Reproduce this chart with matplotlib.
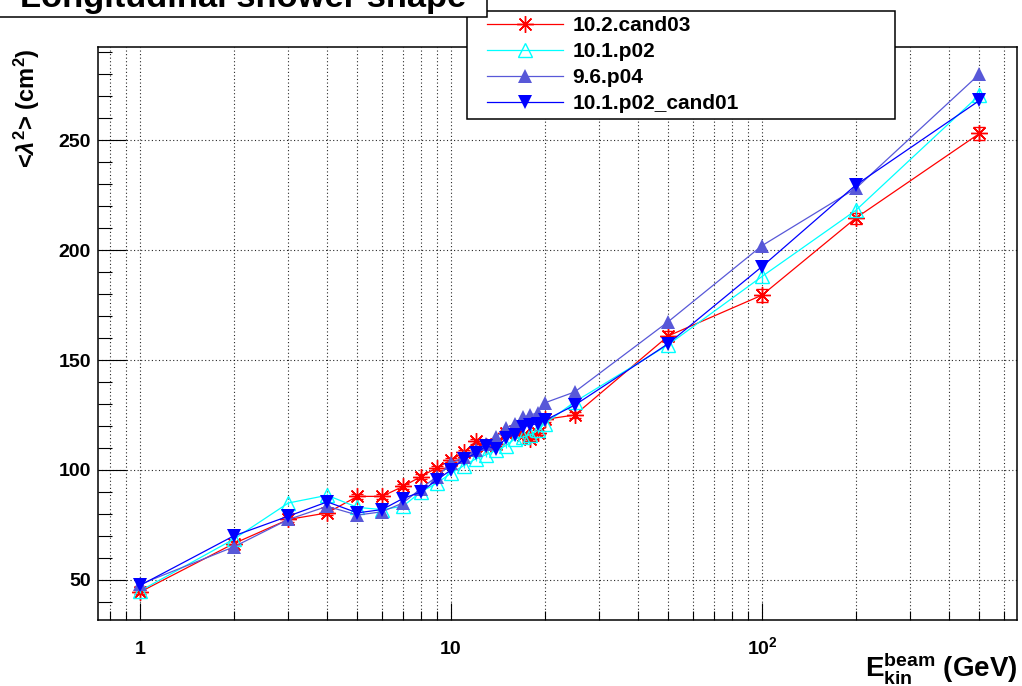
import numpy as np
import matplotlib
matplotlib.use("Agg")
import matplotlib.pyplot as plt
from matplotlib.lines import Line2D
from matplotlib.legend_handler import HandlerLine2D
from matplotlib.patches import Rectangle
from matplotlib.ticker import FixedLocator, FixedFormatter, NullFormatter

plt.rcParams['font.family'] = ['Liberation Sans', 'DejaVu Sans']
plt.rcParams['font.weight'] = 'bold'
plt.rcParams['mathtext.fontset'] = 'custom'
plt.rcParams['mathtext.rm'] = 'Liberation Sans:bold'
plt.rcParams['mathtext.bf'] = 'Liberation Sans:bold'
plt.rcParams['mathtext.it'] = 'Liberation Sans:italic'

# ---------------- data ----------------
energy = [1, 2, 3, 4, 5, 6, 7, 8, 9, 10, 11, 12, 13, 14, 15, 16, 17, 18, 19, 20,
          25, 50, 100, 200, 500]
cand03 = [44.5, 66.5, 77.5, 80.5, 88, 88, 92.5, 97, 101, 104.5, 108, 113, 111, 112,
          117, 117.5, 116, 114, 117, 123, 125, 161, 179.5, 214.5, 253]
cand03_err = [1, 1, 1, 1, 1, 1, 1, 1, 1, 1, 1, 1, 1, 1, 1, 1, 1, 1, 1, 1,
              1.5, 2, 3, 2.5, 3]
p02 = [45, 68.5, 85, 88.5, 83, 82, 83.5, 90, 94, 98.5, 102, 105, 107, 109, 111, 114,
       115, 116, 118, 121, 131, 157, 188, 218, 270.5]
p02_err = [1, 1, 1, 1, 1, 1, 1, 1, 1, 1, 1, 1, 1, 1, 1, 1, 1, 1, 1, 1,
           1.5, 2, 2.5, 2.5, 3]
p04 = [48, 65, 77.5, 83.5, 79.5, 81, 85, 91.5, 97, 103, 106, 109, 112, 115, 119, 121,
       124, 125, 126, 130.5, 135.5, 167.5, 202, 228, 280]
cand01 = [47.5, 70, 79, 85.5, 80.5, 82, 87, 90, 95.5, 100, 105, 107.5, 111, 109.5,
          114.5, 116, 119.5, 120.5, 121, 122.5, 129.5, 157.5, 192.5, 229.5, 268]

labels = ['10.2.cand03', '10.1.p02', '9.6.p04', '10.1.p02_cand01']
colors = ['#ff0000', '#00ffff', '#5858d8', '#0000ff']

x_major = [1, 10, 100]
x_major_labels = ['1', '10', r'$\mathrm{10^{2}}$']
x_minor = [0.8, 0.9, 2, 3, 4, 5, 6, 7, 8, 9, 20, 30, 40, 50, 60, 70, 80, 90,
           200, 300, 400, 500, 600]
y_major = [50, 100, 150, 200, 250]
y_minor = list(range(40, 300, 10))

# ---------------- figure ----------------
W, H = 1022, 686
fig = plt.figure(figsize=(W / 100, H / 100), dpi=100)
L, R, T, B = 98, 1017, 47, 620
ax = fig.add_axes([L / W, (H - B) / H, (R - L) / W, (B - T) / H])
ax.set_xscale('log')
ax.set_xlim(0.733, 660)
ax.set_ylim(31.8, 292.3)

ast = (8, 2, 0)
mk = dict(lw=0.9)
ax.errorbar(energy, cand03, yerr=cand03_err, color=colors[0], marker=ast, ms=12,
            mew=1.0, capsize=4.5, elinewidth=0.9, capthick=0.9, zorder=3, **mk)
ax.errorbar(energy, p02, yerr=p02_err, color=colors[1], marker='^', ms=9.5,
            mfc='none', mew=1.0, capsize=0, elinewidth=0.9, zorder=4, **mk)
ax.plot(energy, p04, color=colors[2], marker='^', ms=9.5, mew=0, zorder=5, **mk)
ax.plot(energy, cand01, color=colors[3], marker='v', ms=10, mew=0, zorder=6, **mk)

# axes / ticks
ax.xaxis.set_major_locator(FixedLocator(x_major))
ax.xaxis.set_major_formatter(FixedFormatter(x_major_labels))
ax.xaxis.set_minor_locator(FixedLocator(x_minor))
ax.xaxis.set_minor_formatter(NullFormatter())
ax.yaxis.set_major_locator(FixedLocator(y_major))
ax.yaxis.set_minor_locator(FixedLocator(y_minor))
ax.tick_params(axis='both', which='both', direction='in', top=False, right=False,
               width=0.8, colors='black')
ax.tick_params(axis='x', which='major', length=12.4, pad=24.5, labelsize=14)
ax.tick_params(axis='x', which='minor', length=6.2)
ax.tick_params(axis='y', which='major', length=20.2, pad=5, labelsize=14)
ax.tick_params(axis='y', which='minor', length=10.1)
for t in ax.xaxis.get_major_ticks():
    t.label1.set_verticalalignment('baseline')
for lab in ax.get_xticklabels() + ax.get_yticklabels():
    lab.set_fontweight('bold')
for sp in ax.spines.values():
    sp.set_linewidth(1.1)

ax.grid(True, which='both', axis='x', color='black', linestyle=(0, (1, 2.2)), lw=0.8,
        alpha=0.85)
ax.grid(True, which='major', axis='y', color='black', linestyle=(0, (1, 2.2)), lw=0.8,
        alpha=0.85)
ax.set_axisbelow(True)

# axis titles
fig.text(1018 / W, 1 - 668 / H, r'$\mathrm{E^{beam}_{kin}}$ (GeV)', ha='right',
         va='center', fontsize=20, fontweight='bold')
fig.text(27 / W, 1 - 48 / H, r'<$\lambda^{\mathrm{2}}$> (cm$^{\mathrm{2}}$)', rotation=90,
         ha='center', va='top', fontsize=17, fontweight='bold')

# legend
handles = [Line2D([], [], color=colors[0], marker=ast, ms=12, mew=1.0, lw=0.9),
           Line2D([], [], color=colors[1], marker='^', ms=9.5, mfc='none', mew=1.0, lw=0.9),
           Line2D([], [], color=colors[2], marker='^', ms=9.5, mew=0, lw=0.9),
           Line2D([], [], color=colors[3], marker='v', ms=10, mew=0, lw=0.9)]
lx0, lx1, ly0, ly1 = 467, 895, 10.7, 118.3
leg = fig.legend(handles, labels, loc='upper left',
                 bbox_to_anchor=(lx0 / W, 1 - ly1 / H, (lx1 - lx0) / W, (ly1 - ly0) / H),
                 bbox_transform=fig.transFigure, mode='expand', borderaxespad=0,
                 prop={'family': 'Liberation Sans', 'weight': 'bold', 'size': 15},
                 handlelength=4.37, handletextpad=0.43, labelspacing=0.34,
                 borderpad=0.26, fancybox=False, framealpha=1, edgecolor='black',
                 numpoints=1,
                 handler_map={h: HandlerLine2D(xpad=0.72) for h in handles})
leg.get_frame().set_linewidth(1.1)
leg.set_zorder(10)

# title box
fig.patches.append(Rectangle((-5 / W, 1 - 17 / H), (487 + 5) / W, 30 / H,
                             transform=fig.transFigure, facecolor='white',
                             edgecolor='black', lw=1.1, zorder=20))
fig.text(243 / W, 1 - 7.5 / H, 'Longitudinal shower shape', ha='center',
         va='baseline', fontsize=24.8, fontweight='bold', zorder=21)

fig.savefig('out.png', dpi=100)
